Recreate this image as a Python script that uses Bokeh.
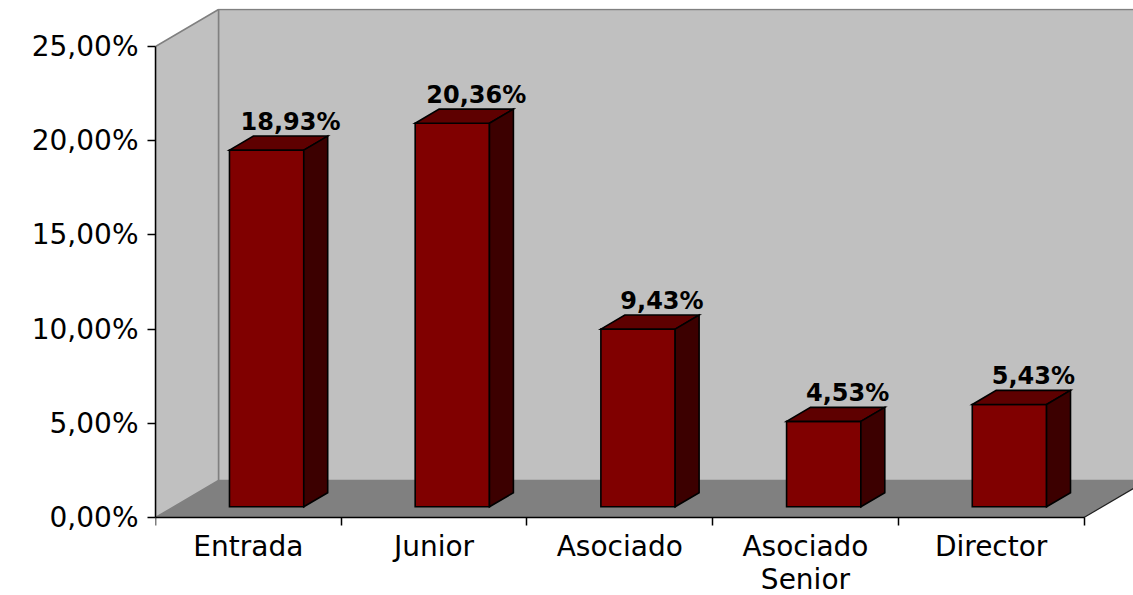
from bokeh.plotting import figure
from bokeh.models import Range1d, FixedTicker, ColumnDataSource
from bokeh.embed import file_html
from bokeh.resources import INLINE
from bokeh.core.properties import value

# ---- data ----
categories = ["Entrada", "Junior", "Asociado", "Asociado\nSenior", "Director"]
percentages = [18.93, 20.36, 9.43, 4.53, 5.43]
y_ticks = [0, 5, 10, 15, 20, 25]
y_tick_labels = ["0,00%", "5,00%", "10,00%", "15,00%", "20,00%", "25,00%"]

# ---- 3D geometry (oblique projection) ----
n = len(categories)
PX_PER_CAT = 185.7
PX_PER_PCT = 18.84
DX = 63 / PX_PER_CAT      # depth shift, category units
DY = 37 / PX_PER_PCT      # depth shift, percent units
F0, F1 = 0.29, 0.67       # bar front / back depth fractions
HALF_W = 0.20
YMAX = y_ticks[-1]

p = figure(width=1133, height=595, output_backend="svg", toolbar_location=None,
           x_range=Range1d(0, 978 / PX_PER_CAT),
           y_range=Range1d(-78 / PX_PER_PCT, 509 / PX_PER_PCT),
           min_border_left=155, min_border_right=0, min_border_top=8, min_border_bottom=0,
           outline_line_color=None, background_fill_color="white", border_fill_color="white")
p.grid.visible = False

# walls
p.patch([DX, n + DX, n + DX, DX], [DY, DY, YMAX + DY, YMAX + DY],
        fill_color="#C0C0C0", line_color="#808080", line_width=1.5)
p.patch([0, DX, DX, 0], [0, DY, YMAX + DY, YMAX],
        fill_color="#C0C0C0", line_color="#808080", line_width=1.5)
# floor
p.patch([0, n, n + DX, DX], [0, 0, DY, DY], fill_color="#808080", line_color=None)
p.segment(x0=[n], y0=[0], x1=[n + DX], y1=[DY], line_color="#202020", line_width=1.2)

# bars
left = [i + 0.5 - HALF_W + F0 * DX for i in range(n)]
right = [l + 2 * HALF_W for l in left]
bottom = [F0 * DY] * n
top = [v + F0 * DY for v in percentages]
ddx = (F1 - F0) * DX
ddy = (F1 - F0) * DY

src = ColumnDataSource(dict(left=left, right=right, bottom=bottom, top=top))
p.quad(left="left", right="right", bottom="bottom", top="top", source=src,
       fill_color="#800000", line_color="black", line_width=1.6, line_join="miter")

top_xs = [[l, r, r + ddx, l + ddx] for l, r in zip(left, right)]
top_ys = [[t, t, t + ddy, t + ddy] for t in top]
p.patches(top_xs, top_ys, fill_color="#5E0000", line_color="black", line_width=1.6,
          line_join="miter")

side_xs = [[r, r + ddx, r + ddx, r] for r in right]
side_ys = [[b, b + ddy, t + ddy, t] for b, t in zip(bottom, top)]
p.patches(side_xs, side_ys, fill_color="#3C0000", line_color="black", line_width=1.6,
          line_join="miter")

# value labels
lab = ColumnDataSource(dict(
    x=[i + 0.5 + F1 * DX for i in range(n)],
    y=[v + F1 * DY for v in percentages],
    t=[f"{v:.2f}".replace(".", ",") + "%" for v in percentages]))
p.text(x="x", y="y", text="t", source=lab, text_font=value("DejaVu Sans"),
       text_font_style="bold", text_font_size="24px", text_color="black",
       text_align="center", text_baseline="alphabetic", y_offset=-14)

# x axis (drawn at y = 0 inside the frame)
xa = p.xaxis[0]
xa.fixed_location = 0
xa.ticker = FixedTicker(ticks=[i + 0.5 for i in range(n)], minor_ticks=list(range(n + 1)))
xa.major_label_overrides = {i + 0.5: c for i, c in enumerate(categories)}
xa.bounds = (0, n)
xa.axis_line_color = "black"
xa.axis_line_width = 1.5
xa.major_tick_line_color = None
xa.major_tick_out = 0
xa.major_tick_in = 0
xa.minor_tick_line_color = "black"
xa.minor_tick_line_width = 1.5
xa.minor_tick_out = 8
xa.minor_tick_in = 0
xa.major_label_text_font = "DejaVu Sans"
xa.major_label_text_font_size = "28px"
xa.major_label_text_line_height = 1.0
xa.major_label_text_color = "black"
xa.major_label_standoff = 4

# y axis
ya = p.yaxis[0]
ya.ticker = FixedTicker(ticks=y_ticks, minor_ticks=[])
ya.major_label_overrides = {t: s for t, s in zip(y_ticks, y_tick_labels)}
ya.bounds = (0, YMAX)
ya.axis_line_color = "black"
ya.axis_line_width = 1.5
ya.major_tick_line_color = "black"
ya.major_tick_line_width = 1.5
ya.major_tick_out = 8
ya.major_tick_in = 0
ya.minor_tick_line_color = None
ya.major_label_text_font = "DejaVu Sans"
ya.major_label_text_font_size = "28px"
ya.major_label_text_color = "black"
ya.major_label_standoff = 9

open("out.html", "w").write(file_html(p, INLINE))
